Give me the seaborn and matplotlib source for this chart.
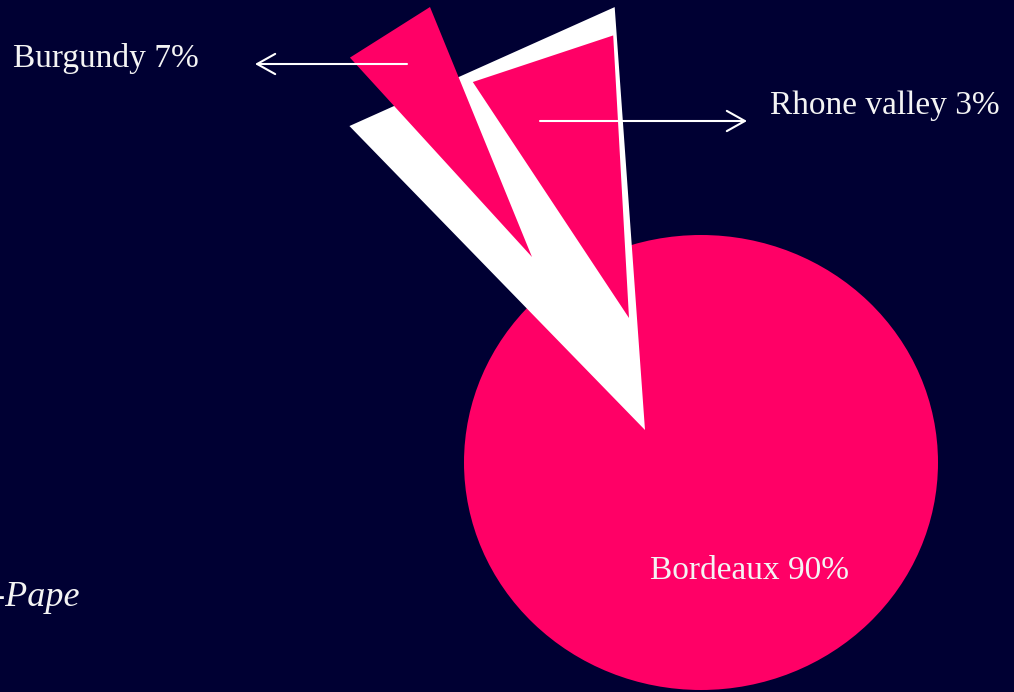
import numpy as np
import matplotlib
matplotlib.use("Agg")
import matplotlib.pyplot as plt
from matplotlib.patches import Ellipse
import seaborn as sns

# dados do gráfico
regioes = ["Bordeaux", "Burgundy", "Rhone valley"]
percentuais = [90, 7, 3]
titulo_lateral = "Châteauneuf-du-Pape"

# cores
FUNDO = "#000033"
ROSA = "#ff0066"
BRANCO = "#ffffff"
TEXTO = "#f4f4f4"

sns.set_style("white")
plt.rcParams["font.family"] = ["Liberation Serif", "DejaVu Serif"]

# layout (coordenadas em pixels da imagem)
centro_disco = (701, 462.5)
largura_disco, altura_disco = 474, 455
# fatias desenhadas como triângulos: vértice, ângulo inicial, ângulo final, comprimento
fatia_outros = dict(apice=(645, 430), a1=94.1, a2=134.2, comp=424)
fatia_burgundy = dict(apice=(532, 257), a1=112.2, a2=132.4, comp=270)
fatia_rhone = dict(apice=(629, 318), a1=93.2, a2=123.5, comp=283)


def triangulo(ax, apice, a1, a2, comp, cor):
    x0, y0 = apice
    angs = np.radians([a1, a2])
    xs = [x0] + list(x0 + comp * np.cos(angs))
    ys = [y0] + list(y0 - comp * np.sin(angs))
    ax.fill(xs, ys, color=cor, lw=0)


fig = plt.figure(figsize=(10.14, 6.92), dpi=100, facecolor=FUNDO)
ax = fig.add_axes([0, 0, 1, 1])
ax.set_facecolor(FUNDO)

# disco principal (Bordeaux)
ax.add_patch(Ellipse(centro_disco, largura_disco, altura_disco,
                     facecolor=ROSA, edgecolor="none"))

# fatia destacada (outros) e as duas fatias menores
triangulo(ax, cor=BRANCO, **fatia_outros)
triangulo(ax, cor=ROSA, **fatia_burgundy)
triangulo(ax, cor=ROSA, **fatia_rhone)

# setas
seta = dict(arrowstyle="->,head_length=0.5,head_width=0.28", lw=1.5,
            color=BRANCO, mutation_scale=26, shrinkA=0, shrinkB=0)
ax.annotate("", xy=(255, 64), xytext=(407, 64), arrowprops=seta)
ax.annotate("", xy=(747, 121), xytext=(540, 121), arrowprops=seta)

# rótulos
ax.text(13, 67, f"{regioes[1]} {percentuais[1]}%", color=TEXTO,
        fontsize=24, va="baseline", ha="left")
ax.text(770, 114, f"{regioes[2]} {percentuais[2]}%", color=TEXTO,
        fontsize=24, va="baseline", ha="left")
ax.text(650, 579, f"{regioes[0]} {percentuais[0]}%", color=TEXTO,
        fontsize=24, va="baseline", ha="left")
ax.text(80, 606, titulo_lateral, color=TEXTO, fontsize=26,
        style="italic", va="baseline", ha="right")

ax.set_xlim(0, 1014)
ax.set_ylim(692, 0)
ax.axis("off")

fig.savefig("out.png", dpi=100, facecolor=FUNDO)
